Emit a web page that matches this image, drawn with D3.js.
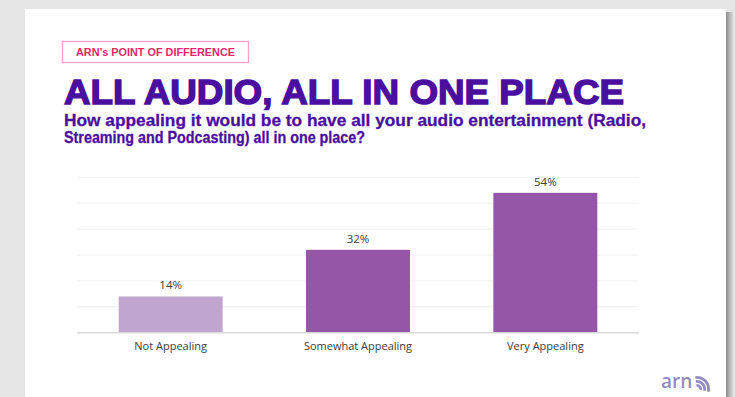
<!DOCTYPE html>
<html>
<head>
<meta charset="utf-8">
<script src="https://cdn.jsdelivr.net/npm/d3@7"></script>
<style>
  html, body { margin: 0; padding: 0; background: #e6e6e6; }
  svg { display: block; }
</style>
</head>
<body>
<svg id="chart" width="735" height="397"></svg>
<script>
// Survey responses: appeal of having all audio in one place
const categories = ["Not Appealing", "Somewhat Appealing", "Very Appealing"];
const values = [14, 32, 54];
const barColors = ["#c0a6cf", "#9656a8", "#9656a8"];
const gridTicks = [0, 10, 20, 30, 40, 50, 60];

const tagText = "ARN\u2019s POINT OF DIFFERENCE";
const titleText = "ALL AUDIO, ALL IN ONE PLACE";
const subtitleLines = [
  "How appealing it would be to have all your audio entertainment (Radio,",
  "Streaming and Podcasting) all in one place?"
];

const svg = d3.select("#chart");

// slide shadow + card
const defs = svg.append("defs");
const sh = defs.append("linearGradient").attr("id", "shadowR").attr("x1", 0).attr("x2", 1);
sh.append("stop").attr("offset", 0).attr("stop-color", "#8c8c8c");
sh.append("stop").attr("offset", 1).attr("stop-color", "#e6e6e6");
svg.append("rect").attr("x", 726).attr("y", 12).attr("width", 8).attr("height", 397)
  .attr("fill", "url(#shadowR)");
svg.append("rect").attr("x", 25).attr("y", 9).attr("width", 701).attr("height", 400)
  .attr("fill", "#ffffff");

// tag box
svg.append("rect").attr("x", 62.5).attr("y", 41.5).attr("width", 186).attr("height", 21)
  .attr("fill", "none").attr("stroke", "#f5a3c6").attr("stroke-width", 1.3);
svg.append("text").attr("x", 155.5).attr("y", 56).attr("text-anchor", "middle")
  .attr("font-family", "Liberation Sans, Arial, sans-serif").attr("font-weight", "bold")
  .attr("font-size", 10.5).attr("fill", "#e8246e")
  .attr("textLength", 159).attr("lengthAdjust", "spacingAndGlyphs")
  .text(tagText);

// headline
svg.append("text").attr("x", 64).attr("y", 104)
  .attr("font-family", "Liberation Sans, Arial, sans-serif").attr("font-weight", "bold")
  .attr("font-size", 34.5).attr("fill", "#4a0f9e")
  .attr("stroke", "#4a0f9e").attr("stroke-width", 1.4)
  .attr("textLength", 560).attr("lengthAdjust", "spacingAndGlyphs")
  .text(titleText);

// question
const subLens = [582, 301];
svg.selectAll("text.sub").data(subtitleLines).join("text")
  .attr("class", "sub")
  .attr("x", 64).attr("y", (d, i) => 125.5 + i * 17)
  .attr("font-family", "Liberation Sans, Arial, sans-serif").attr("font-weight", "bold")
  .attr("font-size", 16.5).attr("fill", "#4a0f9e")
  .attr("stroke", "#4a0f9e").attr("stroke-width", 0.3)
  .attr("textLength", (d, i) => subLens[i]).attr("lengthAdjust", "spacingAndGlyphs")
  .text(d => d);

// scales
const x = d3.scaleBand().domain(categories).range([77, 639])
  .paddingInner(0.445).paddingOuter(0.2225);
const y = d3.scaleLinear().domain([0, 60]).range([332.7, 177.3]);

// gridlines
svg.append("g").selectAll("line").data(gridTicks.slice(1)).join("line")
  .attr("x1", 77).attr("x2", 639)
  .attr("y1", d => y(d)).attr("y2", d => y(d))
  .attr("stroke", "#f0f0f0").attr("stroke-width", 1);

// bars
svg.append("g").selectAll("rect").data(values).join("rect")
  .attr("x", (d, i) => x(categories[i]))
  .attr("y", d => y(d))
  .attr("width", x.bandwidth())
  .attr("height", d => y(0) - y(d))
  .attr("fill", (d, i) => barColors[i]);

// value labels
svg.append("g").selectAll("text").data(values).join("text")
  .attr("x", (d, i) => x(categories[i]) + x.bandwidth() / 2)
  .attr("y", d => y(d) - 7)
  .attr("text-anchor", "middle")
  .attr("font-family", "Open Sans, sans-serif").attr("font-size", 11.5)
  .attr("fill", "#404040")
  .text(d => d + "%");

// category axis
const xAxis = svg.append("g").attr("transform", `translate(0,${y(0)})`)
  .call(d3.axisBottom(x).tickSize(0).tickPadding(10));
xAxis.select(".domain").attr("stroke", "#d9d9d9").attr("stroke-width", 1.5)
  .attr("d", "M77,0H639");
xAxis.selectAll("text").attr("font-family", "Open Sans, sans-serif")
  .attr("font-size", 11).attr("fill", "#404040");

// logo
const logo = svg.append("g");
logo.append("text").attr("x", 661).attr("y", 388)
  .attr("font-family", "Open Sans, sans-serif").attr("font-size", 19).attr("font-weight", 600)
  .attr("fill", "#948ac2").text("arn");
const arcRadii = [5, 9, 13];
logo.selectAll("path").data(arcRadii).join("path")
  .attr("d", r => d3.arc().innerRadius(r - 2.8).outerRadius(r).startAngle(0).endAngle(Math.PI * 0.62)())
  .attr("transform", "translate(697,389) rotate(-8)")
  .attr("fill", "#948ac2");
</script>
</body>
</html>
